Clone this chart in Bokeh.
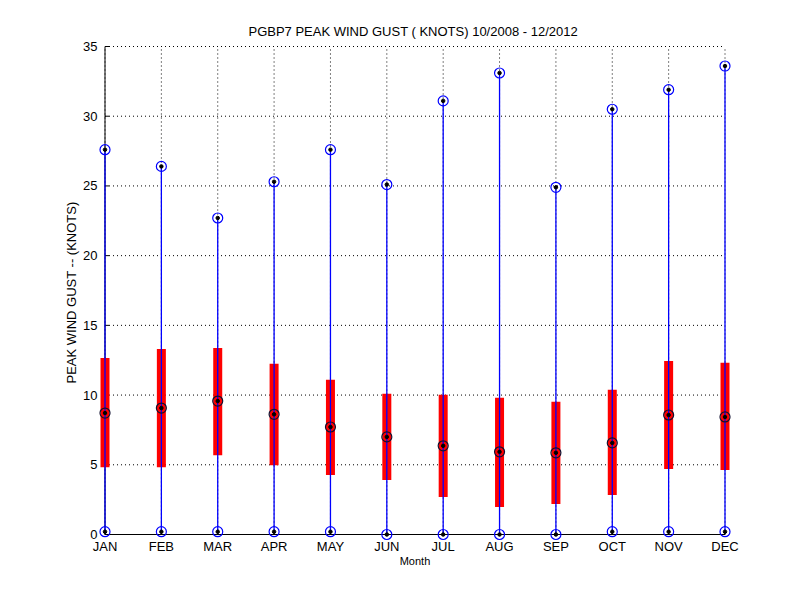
import math
from bokeh.plotting import figure
from bokeh.models import FixedTicker, Range1d
from bokeh.embed import file_html
from bokeh.resources import INLINE

months = ["JAN", "FEB", "MAR", "APR", "MAY", "JUN", "JUL", "AUG", "SEP", "OCT", "NOV", "DEC"]
month_num = list(range(1, 13))
gust_max = [27.6, 26.4, 22.7, 25.3, 27.6, 25.1, 31.1, 33.1, 24.9, 30.5, 31.9, 33.6]
gust_min = [0.2, 0.2, 0.2, 0.2, 0.2, 0.0, 0.0, 0.0, 0.0, 0.2, 0.2, 0.2]
gust_q1 = [4.83, 4.83, 5.69, 4.97, 4.26, 3.90, 2.69, 1.97, 2.19, 2.83, 4.69, 4.62]
gust_q3 = [12.66, 13.30, 13.38, 12.24, 11.09, 10.09, 10.02, 9.80, 9.52, 10.38, 12.45, 12.31]
gust_median = [8.71, 9.07, 9.57, 8.62, 7.71, 7.00, 6.36, 5.93, 5.86, 6.57, 8.57, 8.43]
y_ticks = [0, 5, 10, 15, 20, 25, 30, 35]

FONT = "Liberation Sans"

# layout (pixels)
W, H = 784, 584
AX_L, AX_R, AX_T, AX_B = 104.5, 724.5, 46, 534   # axis positions on the page
PAD_X, PAD_T, PAD_B = 6.5, 2, 6
x0, x1 = month_num[0], month_num[-1]
y0, y1 = y_ticks[0], y_ticks[-1]
ppx = (AX_R - AX_L) / (x1 - x0)
ppy = (AX_B - AX_T) / (y1 - y0)
fl, fr = AX_L - PAD_X, AX_R + PAD_X
ft, fb = AX_T - PAD_T, AX_B + PAD_B

p = figure(width=W, height=H, output_backend="svg", toolbar_location=None,
           x_range=Range1d(x0 - PAD_X / ppx, x1 + PAD_X / ppx),
           y_range=Range1d(y0 - PAD_B / ppy, y1 + PAD_T / ppy),
           min_border_left=int(round(fl)), min_border_right=int(round(W - fr)),
           min_border_top=int(round(ft)), min_border_bottom=int(round(H - fb)),
           title="PGBP7  PEAK WIND GUST ( KNOTS) 10/2008 - 12/2012")

p.title.align = "center"
p.title.text_font = FONT
p.title.text_font_size = "13px"
p.title.text_font_style = "normal"
p.title.text_color = "black"
p.title.standoff = 12

p.outline_line_color = None
p.background_fill_color = "white"
p.border_fill_color = "white"
p.xgrid.visible = False
p.ygrid.visible = False

p.xaxis.ticker = FixedTicker(ticks=month_num)
p.xaxis.major_label_overrides = {m: lab for m, lab in zip(month_num, months)}
p.yaxis.ticker = FixedTicker(ticks=y_ticks)

for ax in (p.xaxis, p.yaxis):
    ax.major_tick_line_color = None
    ax.minor_tick_line_color = None
    ax.axis_line_color = None
    ax.major_label_text_font = FONT
    ax.major_label_text_font_size = "13px"
    ax.major_label_text_color = "black"
    ax.axis_label_text_font = FONT
    ax.axis_label_text_font_style = "normal"
    ax.axis_label_text_color = "black"

p.xaxis.major_label_standoff = -8
p.yaxis.major_label_standoff = -5
p.xaxis.axis_label = "Month"
p.xaxis.axis_label_text_font_size = "11px"
p.xaxis.axis_label_standoff = -2
p.yaxis.axis_label = "PEAK WIND GUST -- (KNOTS)"
p.yaxis.axis_label_text_font_size = "13px"
p.yaxis.axis_label_standoff = 1

# dotted grid, drawn within the axes box only
p.segment(x0=[x0] * len(y_ticks), y0=y_ticks, x1=[x1] * len(y_ticks), y1=y_ticks,
          line_color="black", line_dash="1 3", line_width=1)
p.segment(x0=month_num, y0=[y0] * len(month_num), x1=month_num, y1=[y1] * len(month_num),
          line_color="black", line_dash="1 3", line_width=1)

# axis lines and inward ticks
p.segment(x0=[x0, x0], y0=[y0, y0], x1=[x0, x1], y1=[y1, y0], line_color="black", line_width=1)
p.ray(x=[x0] * len(y_ticks), y=y_ticks, length=4, length_units="screen", angle=0,
      line_color="black", line_width=1)
p.ray(x=month_num, y=[y0] * len(month_num), length=4, length_units="screen", angle=math.pi / 2,
      line_color="black", line_width=1)

# boxes and whiskers
p.vbar(x=month_num, width=9 / ppx, bottom=gust_q1, top=gust_q3, fill_color="#ff0000", line_color=None)
p.segment(x0=month_num, y0=gust_min, x1=month_num, y1=gust_max, line_color="#0000ff", line_width=1.3)

for vals in (gust_max, gust_min):
    p.scatter(month_num, vals, marker="circle", size=10, fill_color=None, line_color="#0000ff", line_width=1.2)
    p.scatter(month_num, vals, marker="circle", size=3.5, fill_color="black", line_color="black")

p.scatter(month_num, gust_median, marker="circle", size=10, fill_color=None, line_color="#101030", line_width=1.2)
p.scatter(month_num, gust_median, marker="circle", size=3.5, fill_color="black", line_color="black")

open("out.html", "w").write(file_html(p, INLINE))
